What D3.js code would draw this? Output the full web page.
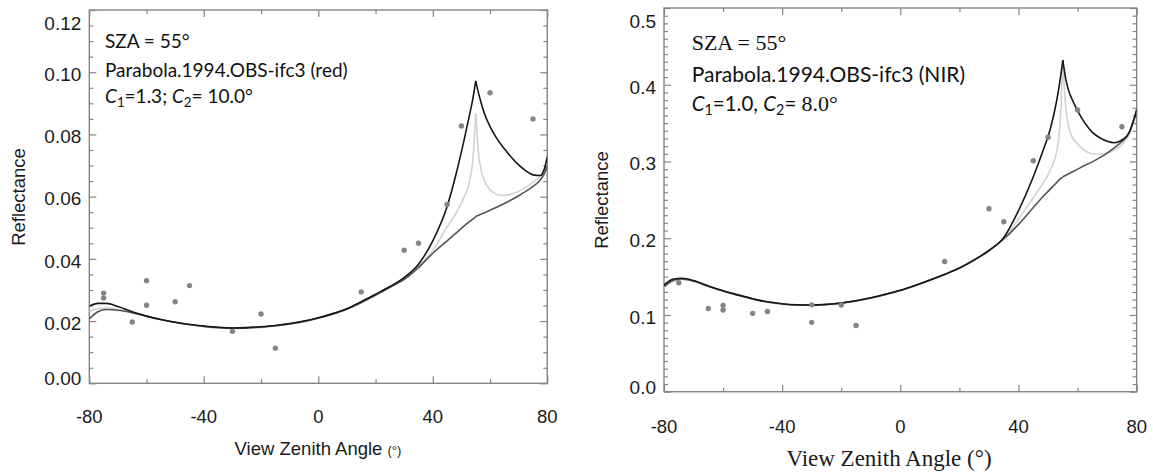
<!DOCTYPE html>
<html>
<head>
<meta charset="utf-8">
<script src="https://cdn.jsdelivr.net/npm/d3@7"></script>
<style>
  body { margin: 0; background: #fff; }
  svg { display: block; }
  .tick line { stroke: #858585; stroke-width: 1.2; }
  .domain { display: none; }
</style>
</head>
<body>
<svg id="chart" width="1153" height="475"></svg>
<script>
// view zenith angle grid (deg) shared by all model curves
var vza = [-80,-77,-74,-70,-65,-60,-55,-50,-45,-40,-35,-30,-25,-20,-15,-10,-5,0,5,10,15,20,25,30,35,40,45,48,51,53,54,55,56,57,58,60,62.5,65,67.5,70,72.5,75,77.5,79,80];
var sza = 55;

// red band model curves
var redBlack = [.0248,.0257,.0257,.0247,.0230,.0216,.0205,.0196,.0189,.0184,.0180,.0178,.0179,.0182,.0186,.0192,.0200,.0211,.0224,.0240,.0262,.0286,.0311,.0340,.0383,.0458,.0568,.0668,.0785,.0870,.0915,.0972,.0932,.0898,.0868,.0825,.0785,.0754,.0726,.0702,.0683,.0670,.0668,.0690,.0728];
var redLight = [.0232,.0240,.0242,.0237,.0227,.0215,.0204,.0195,.0188,.0182,.0178,.0176,.0176,.0179,.0184,.0190,.0198,.0208,.0221,.0237,.0258,.0282,.0308,.0334,.0375,.0428,.0503,.0545,.0600,.0655,.0720,.0868,.0735,.0682,.0652,.0622,.0607,.0604,.0609,.0617,.0630,.0646,.0666,.0688,.0706];
var redDark = [.0207,.0230,.0237,.0235,.0227,.0216,.0205,.0196,.0189,.0183,.0179,.0177,.0178,.0181,.0185,.0191,.0199,.0210,.0223,.0239,.0260,.0284,.0309,.0334,.0372,.0418,.0458,.0482,.0506,.0521,.0528,.0536,.0540,.0544,.0548,.0556,.0567,.0578,.0590,.0603,.0617,.0633,.0653,.0675,.0700];
var redObsVza = [-75,-75,-60,-60,-65,-50,-45,-30,-20,-15,15,30,35,45,50,60,75];
var redObsRefl = [.0290,.0274,.0330,.0251,.0197,.0262,.0314,.0167,.0223,.0113,.0294,.0428,.0450,.0575,.0827,.0934,.0850];

// NIR band model curves
var nirBlack = [.1390,.1465,.1478,.1448,.1378,.1315,.1262,.1212,.1172,.1146,.1133,.1130,.1138,.1156,.1186,.1224,.1270,.1322,.1385,.1455,.1530,.1612,.1718,.1840,.2010,.2360,.2800,.3110,.3460,.3810,.4040,.4320,.4070,.3920,.3820,.3660,.3500,.3380,.3310,.3265,.3245,.3280,.3380,.3540,.3680];
var nirLight = [.1355,.1435,.1462,.1438,.1370,.1308,.1255,.1205,.1166,.1140,.1127,.1125,.1133,.1151,.1181,.1219,.1265,.1317,.1380,.1450,.1525,.1607,.1713,.1835,.2000,.2250,.2530,.2700,.2910,.3150,.3450,.4300,.3700,.3450,.3330,.3230,.3140,.3100,.3095,.3110,.3150,.3220,.3360,.3540,.3660];
var nirDark = [.1370,.1450,.1470,.1442,.1374,.1312,.1259,.1209,.1169,.1143,.1130,.1128,.1136,.1154,.1184,.1222,.1268,.1320,.1383,.1453,.1528,.1610,.1716,.1838,.1990,.2180,.2400,.2530,.2650,.2730,.2770,.2800,.2820,.2840,.2860,.2900,.2950,.2995,.3050,.3110,.3180,.3260,.3380,.3540,.3620];
var nirObsVza = [-75,-65,-60,-60,-50,-45,-30,-30,-20,-15,15,30,35,45,50,60,75];
var nirObsRefl = [.1420,.1085,.1125,.1065,.1021,.1045,.1132,.0904,.1130,.0862,.1697,.2385,.2215,.3010,.3315,.3670,.3453];

var xMajor = [-80,-40,0,40,80];
var xMinor = [-60,-20,20,60];
var redYTicks = [0,.02,.04,.06,.08,.10,.12];
var nirYTicks = [0,.1,.2,.3,.4,.5];

var svg = d3.select('#chart');

function range(a, b, step) {
  return d3.range(Math.round((b - a) / step) + 1).map(function (i) { return +(a + i * step).toFixed(4); });
}

function panel(cfg) {
  var g = svg.append('g');
  var x = d3.scaleLinear().domain([-80, 80]).range([cfg.left, cfg.right]);
  var y = d3.scaleLinear().domain(cfg.yDomain).range([cfg.bottom, cfg.top]);
  var w = cfg.right - cfg.left, h = cfg.bottom - cfg.top;

  var clipId = 'clip' + cfg.id;
  g.append('clipPath').attr('id', clipId).append('rect')
    .attr('x', cfg.left).attr('y', cfg.top).attr('width', w).attr('height', h);

  // ticks on all four sides, pointing inwards
  var minorY = range(cfg.yDomain[0], cfg.yDomain[1], cfg.yMinorStep).filter(function (v) {
    return cfg.yTicks.every(function (t) { return Math.abs(t - v) > 1e-6; });
  });
  function ax(gen, scale, vals, size, tx, ty) {
    g.append('g').attr('transform', 'translate(' + tx + ',' + ty + ')')
      .call(gen(scale).tickValues(vals).tickSize(-size).tickFormat(''));
  }
  ax(d3.axisBottom, x, xMajor, 7, 0, cfg.bottom);
  ax(d3.axisBottom, x, xMinor, 4, 0, cfg.bottom);
  ax(d3.axisTop, x, xMajor, 7, 0, cfg.top);
  ax(d3.axisTop, x, xMinor, 4, 0, cfg.top);
  ax(d3.axisLeft, y, cfg.yTicks, 7, cfg.left, 0);
  ax(d3.axisLeft, y, minorY, 4, cfg.left, 0);
  ax(d3.axisRight, y, cfg.yTicks, 7, cfg.right, 0);
  ax(d3.axisRight, y, minorY, 4, cfg.right, 0);

  g.append('rect').attr('x', cfg.left).attr('y', cfg.top).attr('width', w).attr('height', h)
    .attr('fill', 'none').attr('stroke', '#858585').attr('stroke-width', 1.4);

  // tick labels (end labels are pulled inside the frame, as in the original)
  g.selectAll('.ylab').data(cfg.yTicks).enter().append('text')
    .attr('x', cfg.left - 8)
    .attr('y', function (d) { return Math.max(cfg.top + 13, Math.min(cfg.bottom - 5, y(d) + 2)); })
    .attr('dy', '0.36em')
    .attr('text-anchor', 'end')
    .style('font', '19px "Liberation Sans", Arial, sans-serif')
    .attr('fill', '#1a1a1a')
    .text(cfg.yFormat);
  g.selectAll('.xlab').data(xMajor).enter().append('text')
    .attr('x', function (d) { return x(d); })
    .attr('y', cfg.bottom + cfg.xLabOffset)
    .attr('dy', '0.36em')
    .attr('text-anchor', 'middle')
    .style('font', '18.5px "Liberation Sans", Arial, sans-serif')
    .attr('fill', '#1a1a1a')
    .text(function (d) { return d; });

  // model curves, split at the hotspot so the peak stays sharp
  var line = d3.line().x(function (d) { return x(d[0]); }).y(function (d) { return y(d[1]); })
    .curve(d3.curveMonotoneX);
  var curves = [
    { vals: cfg.light, color: '#d2d2d2' },
    { vals: cfg.dark, color: '#555555' },
    { vals: cfg.black, color: '#161616' }
  ];
  var cg = g.append('g').attr('clip-path', 'url(#' + clipId + ')');
  curves.forEach(function (c) {
    var pts = vza.map(function (a, i) { return [a, c.vals[i]]; });
    [pts.filter(function (p) { return p[0] <= sza; }), pts.filter(function (p) { return p[0] >= sza; })]
      .forEach(function (seg) {
        cg.append('path').attr('d', line(seg)).attr('fill', 'none')
          .attr('stroke', c.color).attr('stroke-width', 1.6).attr('stroke-linejoin', 'miter');
      });
  });

  cg.selectAll('circle').data(cfg.obsVza).enter().append('circle')
    .attr('cx', function (d) { return x(d); })
    .attr('cy', function (d, i) { return y(cfg.obsRefl[i]); })
    .attr('r', 2.7)
    .attr('fill', '#858585');

  return { g: g, x: x, y: y };
}

var left = panel({
  id: 'red', left: 89.3, right: 547.3, top: 10, bottom: 383.3,
  yDomain: [0, 0.12], yTicks: redYTicks, yMinorStep: 0.005,
  yFormat: d3.format('.2f'), xLabOffset: 33.5,
  black: redBlack, light: redLight, dark: redDark,
  obsVza: redObsVza, obsRefl: redObsRefl
});
var right = panel({
  id: 'nir', left: 664, right: 1136.7, top: 8, bottom: 391.7,
  yDomain: [0, 0.5], yTicks: nirYTicks, yMinorStep: 0.01,
  yFormat: d3.format('.1f'), xLabOffset: 35,
  black: nirBlack, light: nirLight, dark: nirDark,
  obsVza: nirObsVza, obsRefl: nirObsRefl
});

var sans = '"Liberation Sans", Arial, sans-serif';
var cal = 'Lato, "Open Sans", sans-serif';
var serif = '"Liberation Serif", "Times New Roman", serif';

// axis titles
var t1 = svg.append('text').attr('x', 318).attr('y', 455).attr('text-anchor', 'middle')
  .style('font-family', sans).style('font-size', '18.5px').attr('fill', '#1a1a1a');
t1.append('tspan').text('View Zenith Angle ');
t1.append('tspan').style('font-size', '13px').text('(°)');
svg.append('text').attr('transform', 'translate(18,197) rotate(-90)').attr('dy', '0.36em')
  .attr('text-anchor', 'middle').style('font-family', sans).style('font-size', '18.5px')
  .attr('fill', '#1a1a1a').text('Reflectance');

svg.append('text').attr('x', 889).attr('y', 466).attr('text-anchor', 'middle')
  .style('font-family', serif).style('font-size', '23px').attr('fill', '#1a1a1a')
  .text('View Zenith Angle (°)');
svg.append('text').attr('transform', 'translate(601,200) rotate(-90)').attr('dy', '0.36em')
  .attr('text-anchor', 'middle').style('font-family', sans).style('font-size', '18.5px')
  .attr('fill', '#1a1a1a').text('Reflectance');

// annotations
function cLine(parent, sub, after) {
  parent.append('tspan').style('font-style', 'italic').text('C');
  parent.append('tspan').attr('dy', 4).style('font-size', '0.7em').text(sub);
  parent.append('tspan').attr('dy', -4).text(after);
}

var a1 = svg.append('g').attr('fill', '#111');
a1.append('text').attr('x', 105).attr('y', 48).style('font-family', cal).style('font-size', '19px')
  .text('SZA = 55°');
a1.append('text').attr('x', 105).attr('y', 76.5).style('font-family', cal).style('font-size', '19px')
  .text('Parabola.1994.OBS-ifc3 (red)');
var c1 = a1.append('text').attr('x', 105).attr('y', 103).style('font-family', cal).style('font-size', '19px');
cLine(c1, '1', '=1.3; ');
cLine(c1, '2', '= 10.0°');

var a2 = svg.append('g').attr('fill', '#111');
a2.append('text').attr('x', 691.7).attr('y', 50).style('font-family', serif).style('font-size', '22px')
  .text('SZA = 55°');
a2.append('text').attr('x', 691.7).attr('y', 82).style('font-family', cal).style('font-size', '21px')
  .text('Parabola.1994.OBS-ifc3 (NIR)');
var c2 = a2.append('text').attr('x', 691.7).attr('y', 110.5).style('font-family', cal).style('font-size', '20.5px');
cLine(c2, '1', '=1.0, ');
cLine(c2, '2', '= ');
c2.append('tspan').style('font-family', serif).style('font-size', '22px').text('8.0°');
</script>
</body>
</html>
